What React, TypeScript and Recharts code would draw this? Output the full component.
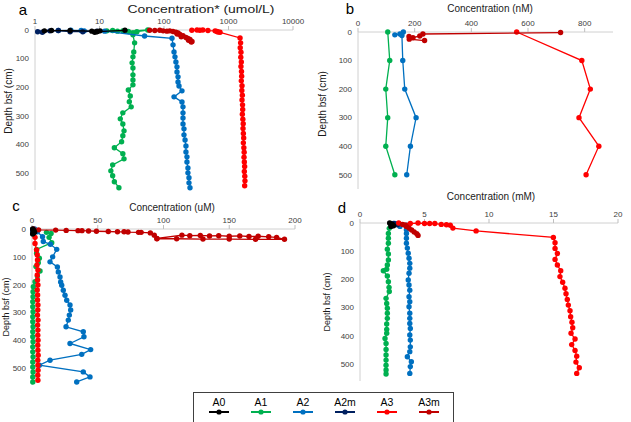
import React from "react";
import { ScatterChart, Scatter, XAxis, YAxis, Label } from "recharts";

const seriesNames = ["A0", "A1", "A2", "A2m", "A3", "A3m"];
const seriesColors: Record<string, string> = {
  A0: "#000000",
  A1: "#00b050",
  A2: "#0070c0",
  A2m: "#002060",
  A3: "#ff0000",
  A3m: "#c00000",
};
// later series are painted on top
const drawOrder = ["A1", "A2", "A2m", "A3", "A3m", "A0"];

const depthTicks = [0, 100, 200, 300, 400, 500];

// ---- a: Concentration* (umol/L), log axis ----
const aTicks = [1, 10, 100, 1000, 10000];
const aA0Conc = [1.4, 1.8, 3.5, 7.6, 8.4, 9.3, 10.2, 9.0, 24.8];
const aA0Depth = [3, 2, 2, 4, 8, 5, 3, 6, 1];
const aA1Conc = [13, 16, 19, 23, 28, 56, 38, 33, 33, 35, 34, 33, 32, 33, 33, 33, 33, 28, 30, 29, 31, 23, 21, 23, 24, 23, 22, 17, 23, 24, 16, 15, 16, 17, 20];
const aA1Depth = [3, 2, 4, 3, 5, 0, 6, 10, 17, 45, 77, 94, 115, 133, 157, 175, 192, 210, 231, 251, 269, 290, 311, 329, 353, 370, 391, 412, 433, 451, 472, 493, 510, 531, 552];
const aA2Conc = [2.3, 3.6, 5.2, 5.8, 12, 50, 133, 138, 143, 148, 153, 159, 159, 165, 165, 171, 190, 143, 190, 197, 197, 197, 197, 204, 204, 212, 219, 219, 227, 227, 235, 235, 244, 244, 253];
const aA2Depth = [2, 1, 2, 3, 4, 21, 29, 52, 77, 94, 112, 129, 147, 164, 182, 196, 213, 234, 252, 269, 290, 308, 329, 346, 367, 385, 406, 427, 444, 462, 483, 500, 517, 535, 552];
const aA2mConc = [1.1, 1.3, 1.7, 2.3, 3.5, 5.5, 9.1];
const aA2mDepth = [6, 8, 3, 2, 6, 6, 4];
const aA3Conc = [270, 325, 360, 400, 480, 620, 660, 690, 740, 1510, 1540, 1520, 1560, 1550, 1580, 1560, 1590, 1600, 1580, 1620, 1610, 1640, 1620, 1650, 1660, 1640, 1670, 1690, 1680, 1700, 1720, 1700, 1730, 1750, 1740, 1760, 1780, 1760, 1790, 1800, 1780];
const aA3Depth = [1, 0, 1, 0, 2, 3, 5, 7, 8, 28, 45, 62, 78, 95, 112, 128, 145, 162, 178, 195, 212, 228, 245, 262, 278, 295, 312, 328, 345, 362, 378, 395, 412, 428, 445, 462, 478, 495, 512, 528, 545];
const aA3mConc = [60, 72, 86, 97, 111, 123, 138, 153, 165, 160, 177, 197, 185, 219, 235, 253, 240, 272, 265];
const aA3mDepth = [1, 2, 1, 3, 4, 3, 5, 8, 10, 14, 16, 20, 24, 26, 30, 33, 36, 40, 42];

// ---- b: Concentration (nM) ----
const bTicks = [0, 200, 400, 600, 800];
const bA1Conc = [105, 112, 98, 105, 98, 130];
const bA1Depth = [0, 100, 200, 300, 400, 500];
const bA2Conc = [130, 148, 160, 155, 158, 165, 205, 185, 172];
const bA2Depth = [10, 7, 0, 12, 100, 200, 300, 400, 500];
const bA3Conc = [560, 790, 820, 780, 850, 805];
const bA3Depth = [0, 100, 200, 300, 400, 500];
const bA3mConc = [715, 229, 218, 194, 180, 181, 235];
const bA3mDepth = [2, 7, 14, 20, 16, 25, 30];

// ---- c: Concentration (uM) ----
const cTicks = [0, 50, 100, 150, 200];
const cA0Conc = [0.5, 1, 1.5, 1, 2, 1, 0.5];
const cA0Depth = [0, 3, 6, 9, 12, 15, 18];
const cA1Conc = [11, 14.5, 13, 15, 3.5, 3.5, 5.6, 4.8, 3.0, 6.1, 4.1, 2.3, 1.0, 0.8, 0.8, 0.6, 0.6, 0.8, 0.6, 0.6, 0.8, 0.6, 0.6, 0.8, 0.6, 0.6, 0.8, 0.6, 0.6, 0.8, 0.6, 0.6];
const cA1Depth = [12, 16, 30, 49, 73, 87, 105, 121, 135, 151, 169, 189, 207, 225, 243, 261, 279, 297, 315, 333, 351, 369, 387, 405, 423, 441, 459, 477, 495, 513, 531, 549];
const cA2Conc = [2, 4, 8, 8.6, 14, 18.8, 15.7, 13.7, 19.3, 20, 21.3, 21.8, 22.6, 23.8, 25.1, 26.4, 28.9, 29.4, 28.4, 27.6, 25.9, 39, 39.5, 28.9, 44.6, 37.8, 13.7, 5.6, 39, 44.1, 34];
const cA2Depth = [0, 10, 28, 45, 55, 73, 100, 118, 136, 154, 172, 190, 202, 220, 238, 256, 273, 291, 309, 327, 351, 369, 387, 411, 433, 450, 471, 489, 513, 531, 549];
const cA2mConc = [0.8, 1.2, 0.6];
const cA2mDepth = [2, 5, 9];
const cA3Conc = [2.3, 2.3, 3.5, 4, 4.2, 3.8, 4.5, 4, 4.2, 4.5, 4, 4.3, 4.2, 4.5, 4.4, 4.2, 4.6, 4.3, 4.5, 4.4, 4.6, 4.4, 4.5, 4.7, 4.4, 4.5, 4.6, 4.4, 4.5];
const cA3Depth = [30, 52, 75, 93, 111, 129, 147, 165, 183, 201, 219, 237, 255, 273, 291, 309, 327, 345, 363, 381, 399, 417, 435, 453, 471, 489, 507, 525, 543];
const cA3mConc = [1, 5, 18, 26, 35, 38, 43, 49, 58, 65, 70, 73, 81, 83, 90, 93, 95, 114, 120, 128, 135, 142, 150, 158, 165, 172, 180, 186, 192, 170, 150, 130, 110, 95];
const cA3mDepth = [0, 3, 4, 5, 6, 6, 7, 8, 9, 10, 10, 11, 12, 12, 14, 22, 34, 22, 24, 23, 25, 24, 26, 25, 27, 26, 28, 30, 37, 37, 36, 36, 35, 35];

// ---- d: Concentration (mM) ----
const dTicks = [0, 5, 10, 15, 20];
const dA0Conc = [2.3, 2.4, 2.5, 2.5, 2.6, 2.4, 2.5];
const dA0Depth = [0, 3, 5, 8, 10, 12, 6];
const dA1Conc = [2.4, 2.27, 2.2, 2.2, 2.2, 2.12, 2.2, 2.2, 2.12, 2.07, 1.81, 2.12, 2.2, 2.25, 2.27, 2.02, 2.07, 2.12, 2.12, 2.12, 2.07, 2.07, 2.07, 1.94, 2.02, 2.02, 2.02, 2.02, 2.02, 2.02, 2.02];
const dA1Depth = [8, 19, 37, 54, 72, 93, 110, 131, 149, 164, 169, 188, 208, 228, 243, 267, 285, 302, 320, 338, 358, 377, 391, 409, 427, 448, 468, 486, 504, 521, 535];
const dA2Conc = [2.7, 3.1, 3.6, 3.6, 3.6, 3.6, 3.6, 3.67, 3.74, 3.8, 3.86, 3.86, 3.8, 3.74, 3.8, 3.86, 3.8, 3.86, 3.8, 3.86, 3.86, 3.86, 3.9, 3.86, 3.9, 3.9, 3.86, 3.67, 3.98, 3.9, 3.86];
const dA2Depth = [2, 12, 8, 24, 37, 54, 72, 89, 107, 125, 143, 160, 178, 202, 220, 238, 261, 279, 297, 320, 338, 356, 374, 397, 415, 439, 456, 474, 492, 509, 533];
const dA2mConc = [2.6, 2.8, 2.9];
const dA2mDepth = [2, 4, 6];
const dA3Conc = [3.0, 3.9, 4.5, 5.0, 5.4, 5.8, 6.3, 6.7, 7.0, 7.2, 9.0, 14.99, 15.12, 15.12, 15.3, 15.12, 15.3, 15.56, 15.5, 15.71, 15.89, 15.97, 16.07, 16.15, 16.28, 16.33, 16.43, 16.49, 16.36, 16.67, 16.41, 16.67, 16.8, 16.74, 17.0, 16.8];
const dA3Depth = [0, 2, 0, 2, 2, 2, 5, 6, 8, 18, 28, 51, 70, 90, 108, 129, 149, 169, 190, 210, 231, 251, 271, 291, 311, 332, 352, 371, 391, 411, 431, 452, 472, 493, 513, 533];
const dA3mConc = [3.3, 3.5, 3.6, 3.8, 4.0, 4.2, 4.4, 4.5];
const dA3mDepth = [5, 8, 12, 18, 25, 32, 38, 44];

type Pt = { c: number; d: number };
const pts = (conc: number[], depth: number[]): Pt[] =>
  conc.map((c, i) => ({ c, d: depth[i] }));

type Margin = { top: number; right: number; bottom: number; left: number };

interface PanelProps {
  left: number;
  top: number;
  width: number;
  height: number;
  margin: Margin;
  yAxisWidth: number;
  logX?: boolean;
  xDomain: [number, number];
  xTicks: number[];
  yDomain: [number, number];
  series: Record<string, Pt[]>;
  letter: string;
  letterPos: [number, number];
  title: string;
  titlePos: [number, number];
  titleLength?: number;
  depthPos: [number, number];
  depthSize: number;
}

const axisGray = "#d0d0d0";
const tickStyle = { fill: "#404040", fontSize: 8 };

function Panel(p: PanelProps) {
  return (
    <div style={{ position: "absolute", left: p.left, top: p.top }}>
      <ScatterChart width={p.width} height={p.height} margin={p.margin}>
        <XAxis
          type="number"
          dataKey="c"
          orientation="top"
          height={20}
          scale={p.logX ? "log" : "linear"}
          domain={p.xDomain}
          ticks={p.xTicks}
          axisLine={{ stroke: axisGray }}
          tickLine={{ stroke: "#bfbfbf" }}
          tickSize={4}
          tickMargin={2.5}
          tick={tickStyle}
          interval={0}
        >
          <Label
            content={() => (
              <g>
                <text
                  x={p.letterPos[0]}
                  y={p.letterPos[1]}
                  textAnchor="middle"
                  dominantBaseline="central"
                  fontSize={15}
                  fill="#000"
                >
                  {p.letter}
                </text>
                <text
                  x={p.titlePos[0]}
                  y={p.titlePos[1]}
                  textAnchor="middle"
                  dominantBaseline="central"
                  fontSize={10}
                  fill="#1a1a1a"
                  textLength={p.titleLength}
                  lengthAdjust="spacingAndGlyphs"
                >
                  {p.title}
                </text>
              </g>
            )}
          />
        </XAxis>
        <YAxis
          type="number"
          dataKey="d"
          reversed
          width={p.yAxisWidth}
          domain={p.yDomain}
          ticks={depthTicks}
          axisLine={{ stroke: axisGray }}
          tickLine={false}
          tickSize={0}
          tickMargin={6}
          tick={tickStyle}
          interval={0}
        >
          <Label
            content={() => (
              <text
                x={p.depthPos[0]}
                y={p.depthPos[1]}
                transform={`rotate(-90 ${p.depthPos[0]} ${p.depthPos[1]})`}
                textAnchor="middle"
                dominantBaseline="central"
                fontSize={p.depthSize}
                fill="#1a1a1a"
              >
                Depth bsf (cm)
              </text>
            )}
          />
        </YAxis>
        {drawOrder
          .filter((name) => p.series[name])
          .map((name) => {
            const color = seriesColors[name];
            return (
              <Scatter
                key={name}
                name={name}
                data={p.series[name]}
                line={{ stroke: color, strokeWidth: 1.3 }}
                lineType="joint"
                shape={(s: any) => <circle cx={s.cx} cy={s.cy} r={2.7} fill={color} />}
                isAnimationActive={false}
              />
            );
          })}
      </ScatterChart>
    </div>
  );
}

function LegendBox() {
  return (
    <div
      style={{
        position: "absolute",
        left: 193,
        top: 392,
        width: 261,
        height: 40,
        border: "1px solid #404040",
        boxSizing: "border-box",
        display: "flex",
        paddingLeft: 4,
        background: "#fff",
      }}
    >
      {seriesNames.map((n) => (
        <div
          key={n}
          style={{ width: 42, display: "flex", flexDirection: "column", alignItems: "center" }}
        >
          <div style={{ fontSize: 10.5, lineHeight: "12px", marginTop: 3, color: "#000" }}>{n}</div>
          <svg width={22} height={8} style={{ display: "block" }}>
            <line x1={1} x2={21} y1={4} y2={4} stroke={seriesColors[n]} strokeWidth={2} />
            <circle cx={11} cy={4} r={2.6} fill={seriesColors[n]} />
          </svg>
        </div>
      ))}
    </div>
  );
}

export default function App() {
  return (
    <div
      style={{
        position: "absolute",
        left: 0,
        top: 0,
        width: 631,
        height: 422,
        overflow: "hidden",
        background: "#fff",
        fontFamily: "'Liberation Sans', Arial, sans-serif",
      }}
    >
      <Panel
        left={0}
        top={0}
        width={310}
        height={200}
        margin={{ top: 10, right: 17, bottom: 10, left: 0 }}
        yAxisWidth={35}
        logX
        xDomain={[1, 10000]}
        xTicks={aTicks}
        yDomain={[0, 560]}
        series={{
          A0: pts(aA0Conc, aA0Depth),
          A1: pts(aA1Conc, aA1Depth),
          A2: pts(aA2Conc, aA2Depth),
          A2m: pts(aA2mConc, aA2mDepth),
          A3: pts(aA3Conc, aA3Depth),
          A3m: pts(aA3mConc, aA3mDepth),
        }}
        letter="a"
        letterPos={[23, 9]}
        title="Concentration* (umol/L)"
        titlePos={[201, 9]}
        titleLength={147}
        depthPos={[8, 101]}
        depthSize={10}
      />
      <Panel
        left={310}
        top={0}
        width={321}
        height={200}
        margin={{ top: 12, right: 18, bottom: 11, left: 0 }}
        yAxisWidth={48}
        xDomain={[0, 900]}
        xTicks={bTicks}
        yDomain={[0, 550]}
        series={{
          A1: pts(bA1Conc, bA1Depth),
          A2: pts(bA2Conc, bA2Depth),
          A3: pts(bA3Conc, bA3Depth),
          A3m: pts(bA3mConc, bA3mDepth),
        }}
        letter="b"
        letterPos={[40, 8]}
        title="Concentration (nM)"
        titlePos={[180, 8]}
        depthPos={[12, 104]}
        depthSize={10}
      />
      <Panel
        left={0}
        top={195}
        width={310}
        height={195}
        margin={{ top: 14, right: 15, bottom: 5, left: 0 }}
        yAxisWidth={32}
        xDomain={[0, 200]}
        xTicks={cTicks}
        yDomain={[0, 560]}
        series={{
          A0: pts(cA0Conc, cA0Depth),
          A1: pts(cA1Conc, cA1Depth),
          A2: pts(cA2Conc, cA2Depth),
          A2m: pts(cA2mConc, cA2mDepth),
          A3: pts(cA3Conc, cA3Depth),
          A3m: pts(cA3mConc, cA3mDepth),
        }}
        letter="c"
        letterPos={[16, 10]}
        title="Concentration (uM)"
        titlePos={[172, 12]}
        depthPos={[6, 112]}
        depthSize={9}
      />
      <Panel
        left={310}
        top={190}
        width={321}
        height={195}
        margin={{ top: 13, right: 13, bottom: 4, left: 0 }}
        yAxisWidth={50}
        xDomain={[0, 20]}
        xTicks={dTicks}
        yDomain={[0, 560]}
        series={{
          A0: pts(dA0Conc, dA0Depth),
          A1: pts(dA1Conc, dA1Depth),
          A2: pts(dA2Conc, dA2Depth),
          A2m: pts(dA2mConc, dA2mDepth),
          A3: pts(dA3Conc, dA3Depth),
          A3m: pts(dA3mConc, dA3mDepth),
        }}
        letter="d"
        letterPos={[32, 17]}
        title="Concentration (mM)"
        titlePos={[181, 6]}
        depthPos={[17, 112]}
        depthSize={9}
      />
      <LegendBox />
    </div>
  );
}
